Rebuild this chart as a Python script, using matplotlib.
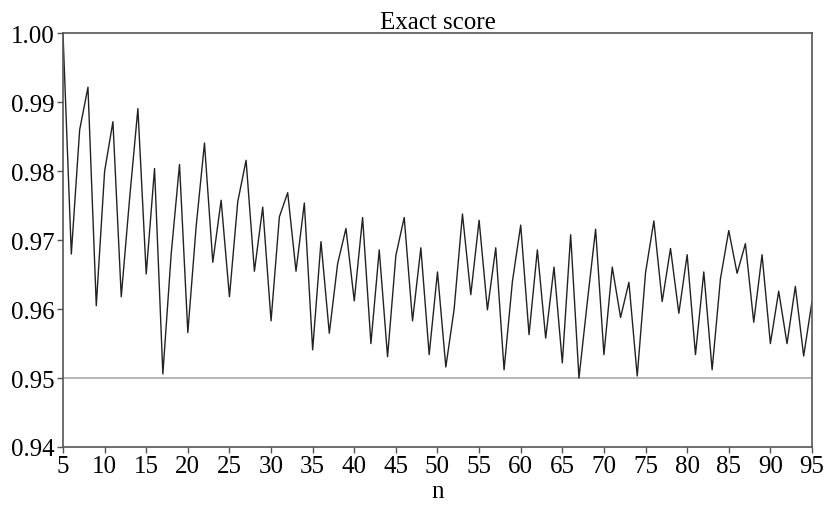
import numpy as np
import matplotlib.pyplot as plt

plt.rcParams["font.family"] = ["Liberation Serif", "DejaVu Serif"]

n = np.arange(5, 96)
exact = [
    1.000, 0.968, 0.986, 0.9922, 0.9605, 0.9800, 0.9872, 0.9618, 0.976, 0.9891,
    0.9651, 0.9804, 0.9506, 0.968, 0.9810, 0.9566, 0.972, 0.9841, 0.9668, 0.9758,
    0.9618, 0.9756, 0.9816, 0.9655, 0.9748, 0.9583, 0.9734, 0.9769, 0.9655, 0.9754,
    0.9541, 0.9698, 0.9565, 0.9666, 0.9717, 0.9612, 0.9733, 0.9550, 0.9686, 0.9531,
    0.9678, 0.9733, 0.9583, 0.9689, 0.9534, 0.9654, 0.9516, 0.9600, 0.9738, 0.9621,
    0.9729, 0.9599, 0.9689, 0.9512, 0.964, 0.9722, 0.9563, 0.9686, 0.9558, 0.9661,
    0.9522, 0.9708, 0.9500, 0.961, 0.9716, 0.9534, 0.9661, 0.9588, 0.9639, 0.9503,
    0.9653, 0.9728, 0.9611, 0.9688, 0.9594, 0.9679, 0.9534, 0.9654, 0.9512, 0.9644,
    0.9714, 0.9652, 0.9695, 0.9581, 0.9679, 0.9550, 0.9626, 0.9550, 0.9633, 0.9532,
    0.9611,
]
nominal = 0.95

fig = plt.figure(figsize=(8.3, 5.1), dpi=100)
ax = fig.add_axes([0.0759, 0.1216, 0.9024, 0.8108])

ax.axhline(nominal, color="#b0b0b0", lw=1.3, zorder=1)
ax.plot(n, exact, color="#222222", lw=1.0, zorder=2)

ax.set_xlim(5, 95)
ax.set_ylim(0.94, 1.00)
ax.set_xticks(np.arange(5, 96, 5))
ax.set_yticks(np.arange(0.94, 1.001, 0.01))
ax.set_yticklabels([f"{v:.2f}" for v in np.arange(0.94, 1.001, 0.01)])

for s in ax.spines.values():
    s.set_color("#555555")
    s.set_linewidth(1.2)
ax.tick_params(direction="out", length=4, width=1, colors="#555555",
               labelcolor="black", labelsize=18, pad=2)

ax.set_title("Exact score", fontsize=18, pad=2)
ax.set_xlabel("n", fontsize=18, labelpad=2)

plt.savefig("out.png", dpi=100)
